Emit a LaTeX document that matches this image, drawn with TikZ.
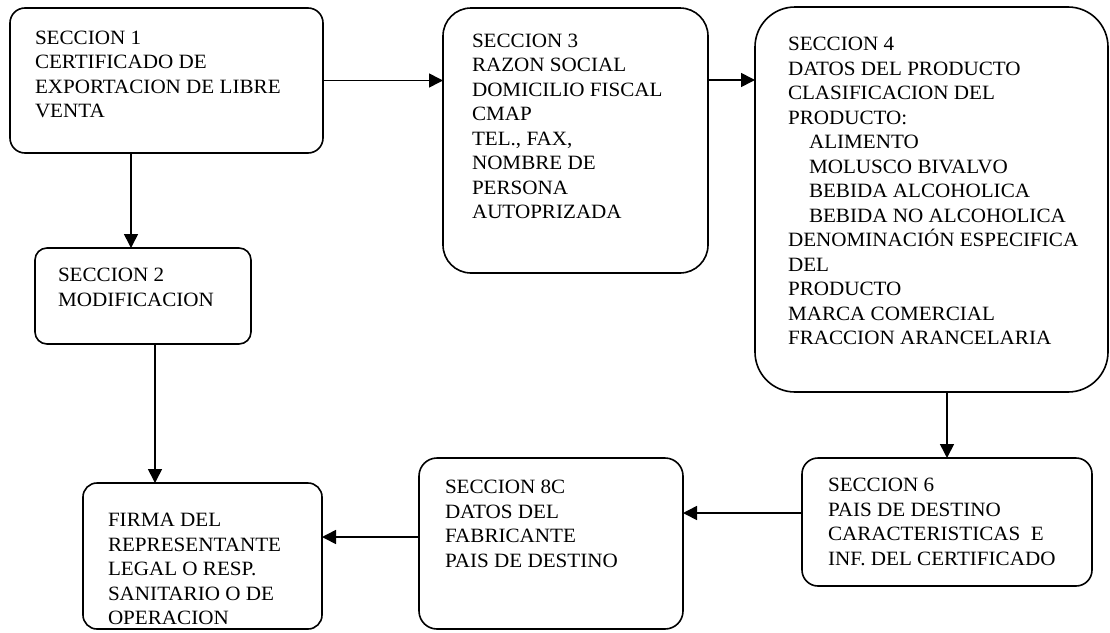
\documentclass[tikz,border=0pt]{standalone}
\usepackage{fontspec}
\setmainfont[FakeStretch=1.04]{Liberation Serif}
\usetikzlibrary{arrows.meta}
\begin{document}
\begin{tikzpicture}[x=1pt,y=-1pt,
  boxnode/.style={draw, line width=1.6pt, inner sep=0pt, outer sep=0pt},
  txt/.style={anchor=north west, inner sep=0pt, outer sep=0pt, align=left,
    font=\fontsize{20.3}{24.5}\selectfont},
  conn/.style={line width=1.6pt, -{Triangle[length=14pt,width=14pt]}}]
\useasboundingbox (0,0) rectangle (1110,632);
% boxes
\node[boxnode, rounded corners=15pt, minimum width=313pt, minimum height=145pt] (b1) at (166.5,80.5) {};
\node[boxnode, rounded corners=28pt, minimum width=265pt, minimum height=265pt] (b3) at (575.5,140.5) {};
\node[boxnode, rounded corners=40pt, minimum width=353pt, minimum height=385pt] (b4) at (931.5,199.5) {};
\node[boxnode, rounded corners=12pt, minimum width=216pt, minimum height=96pt] (b2) at (143,296) {};
\node[boxnode, rounded corners=14pt, minimum width=239pt, minimum height=146pt] (f) at (202.5,556) {};
\node[boxnode, rounded corners=18pt, minimum width=264pt, minimum height=171pt] (c8) at (551,543.5) {};
\node[boxnode, rounded corners=16pt, minimum width=290pt, minimum height=128pt] (b6) at (947,522) {};
% texts
\node[txt] (t1) at (35,31) {SECCION 1\\CERTIFICADO DE\\EXPORTACION DE LIBRE\\VENTA};
\node[txt] (t3) at (472,34) {SECCION 3\\RAZON SOCIAL\\DOMICILIO FISCAL\\CMAP\\TEL., FAX,\\NOMBRE DE\\PERSONA\\AUTOPRIZADA};
\node[txt] (t4) at (788,37.3) {SECCION 4\\DATOS DEL PRODUCTO\\CLASIFICACION DEL\\PRODUCTO:\\\hspace*{21pt}ALIMENTO\\\hspace*{21pt}MOLUSCO BIVALVO\\\hspace*{21pt}BEBIDA ALCOHOLICA\\\hspace*{21pt}BEBIDA NO ALCOHOLICA\\DENOMINACIÓN ESPECIFICA\\DEL\\PRODUCTO\\MARCA COMERCIAL\\FRACCION ARANCELARIA};
\node[txt, font=\fontsize{20.3}{25}\selectfont] (t2) at (58,268) {SECCION 2\\MODIFICACION};
\node[txt] (tf) at (108,513.5) {FIRMA DEL\\REPRESENTANTE\\LEGAL O RESP.\\SANITARIO O DE\\OPERACION};
\node[txt] (t8) at (445,480) {SECCION 8C\\DATOS DEL\\FABRICANTE\\PAIS DE DESTINO};
\node[txt] (t6) at (828,478.3) {SECCION 6\\PAIS DE DESTINO\\CARACTERISTICAS\ \ E\\INF. DEL CERTIFICADO};
% connectors
\draw[conn] (b1.east) -- (b1.east -| b3.west);
\draw[conn] (b3.east |- 0,80) -- (b4.west |- 0,80);
\draw[conn] (131,0 |- b1.south) -- (131,0 |- b2.north);
\draw[conn] (155,0 |- b2.south) -- (155,0 |- f.north);
\draw[conn] (b6.north |- b4.south) -- (b6.north);
\draw[conn] (b6.west |- 0,513) -- (c8.east |- 0,513);
\draw[conn] (c8.west |- 0,537) -- (f.east |- 0,537);
\end{tikzpicture}
\end{document}
